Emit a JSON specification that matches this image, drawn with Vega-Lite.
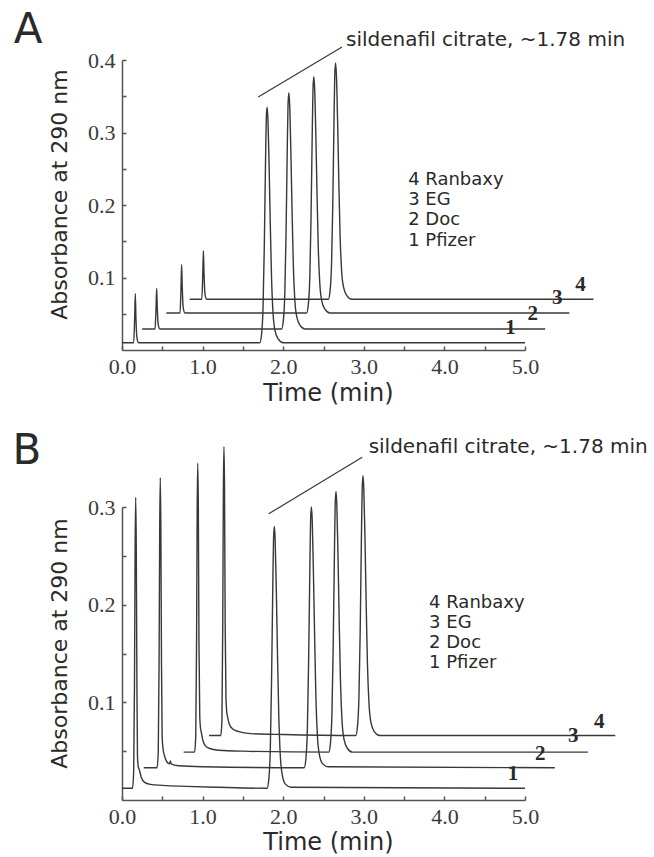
{
  "$schema": "https://vega.github.io/schema/vega-lite/v6.json",
  "background": "white",
  "padding": {"left": 12, "top": 9, "right": 5, "bottom": 5},
  "spacing": 157,
  "bounds": "flush",
  "config": {
    "view": {"stroke": null},
    "axis": {
      "grid": false,
      "domainColor": "#555555",
      "domainWidth": 1.5,
      "tickColor": "#555555",
      "tickWidth": 1.5,
      "tickSize": -4,
      "labelFont": "Liberation Serif",
      "labelFontSize": 22,
      "labelColor": "#3a3a3a",
      "titleFont": "DejaVu Sans",
      "titleFontWeight": "normal",
      "titleColor": "#2a2a2a"
    }
  },
  "datasets": {
    "traces": [
      {"p":"A","s":1,"t":0,"a":0.010},
      {"p":"A","s":1,"t":0.145,"a":0.010},
      {"p":"A","s":1,"t":0.157,"a":0.044},
      {"p":"A","s":1,"t":0.165,"a":0.078},
      {"p":"A","s":1,"t":0.173,"a":0.044},
      {"p":"A","s":1,"t":0.185,"a":0.017},
      {"p":"A","s":1,"t":0.205,"a":0.010},
      {"p":"A","s":1,"t":1.71,"a":0.010},
      {"p":"A","s":1,"t":1.73,"a":0.020},
      {"p":"A","s":1,"t":1.75,"a":0.059},
      {"p":"A","s":1,"t":1.765,"a":0.140},
      {"p":"A","s":1,"t":1.78,"a":0.254},
      {"p":"A","s":1,"t":1.79,"a":0.319},
      {"p":"A","s":1,"t":1.80,"a":0.335},
      {"p":"A","s":1,"t":1.81,"a":0.319},
      {"p":"A","s":1,"t":1.825,"a":0.254},
      {"p":"A","s":1,"t":1.84,"a":0.173},
      {"p":"A","s":1,"t":1.855,"a":0.101},
      {"p":"A","s":1,"t":1.875,"a":0.049},
      {"p":"A","s":1,"t":1.90,"a":0.026},
      {"p":"A","s":1,"t":1.94,"a":0.015},
      {"p":"A","s":1,"t":2.00,"a":0.010},
      {"p":"A","s":1,"t":5.0,"a":0.010},

      {"p":"A","s":2,"t":0.25,"a":0.029},
      {"p":"A","s":2,"t":0.41,"a":0.029},
      {"p":"A","s":2,"t":0.422,"a":0.057},
      {"p":"A","s":2,"t":0.43,"a":0.085},
      {"p":"A","s":2,"t":0.438,"a":0.057},
      {"p":"A","s":2,"t":0.45,"a":0.035},
      {"p":"A","s":2,"t":0.47,"a":0.029},
      {"p":"A","s":2,"t":1.98,"a":0.029},
      {"p":"A","s":2,"t":2.00,"a":0.039},
      {"p":"A","s":2,"t":2.02,"a":0.078},
      {"p":"A","s":2,"t":2.035,"a":0.159},
      {"p":"A","s":2,"t":2.05,"a":0.274},
      {"p":"A","s":2,"t":2.06,"a":0.339},
      {"p":"A","s":2,"t":2.07,"a":0.355},
      {"p":"A","s":2,"t":2.08,"a":0.339},
      {"p":"A","s":2,"t":2.095,"a":0.274},
      {"p":"A","s":2,"t":2.11,"a":0.192},
      {"p":"A","s":2,"t":2.125,"a":0.120},
      {"p":"A","s":2,"t":2.145,"a":0.068},
      {"p":"A","s":2,"t":2.17,"a":0.045},
      {"p":"A","s":2,"t":2.21,"a":0.034},
      {"p":"A","s":2,"t":2.27,"a":0.029},
      {"p":"A","s":2,"t":5.25,"a":0.029},

      {"p":"A","s":3,"t":0.55,"a":0.051},
      {"p":"A","s":3,"t":0.72,"a":0.051},
      {"p":"A","s":3,"t":0.732,"a":0.085},
      {"p":"A","s":3,"t":0.74,"a":0.118},
      {"p":"A","s":3,"t":0.748,"a":0.085},
      {"p":"A","s":3,"t":0.76,"a":0.058},
      {"p":"A","s":3,"t":0.78,"a":0.051},
      {"p":"A","s":3,"t":2.29,"a":0.051},
      {"p":"A","s":3,"t":2.31,"a":0.061},
      {"p":"A","s":3,"t":2.33,"a":0.100},
      {"p":"A","s":3,"t":2.345,"a":0.181},
      {"p":"A","s":3,"t":2.36,"a":0.296},
      {"p":"A","s":3,"t":2.37,"a":0.361},
      {"p":"A","s":3,"t":2.38,"a":0.377},
      {"p":"A","s":3,"t":2.39,"a":0.361},
      {"p":"A","s":3,"t":2.405,"a":0.296},
      {"p":"A","s":3,"t":2.42,"a":0.214},
      {"p":"A","s":3,"t":2.435,"a":0.142},
      {"p":"A","s":3,"t":2.455,"a":0.090},
      {"p":"A","s":3,"t":2.48,"a":0.067},
      {"p":"A","s":3,"t":2.52,"a":0.056},
      {"p":"A","s":3,"t":2.58,"a":0.051},
      {"p":"A","s":3,"t":5.55,"a":0.051},

      {"p":"A","s":4,"t":0.84,"a":0.070},
      {"p":"A","s":4,"t":0.99,"a":0.070},
      {"p":"A","s":4,"t":1.002,"a":0.104},
      {"p":"A","s":4,"t":1.01,"a":0.137},
      {"p":"A","s":4,"t":1.018,"a":0.104},
      {"p":"A","s":4,"t":1.03,"a":0.077},
      {"p":"A","s":4,"t":1.05,"a":0.070},
      {"p":"A","s":4,"t":2.56,"a":0.070},
      {"p":"A","s":4,"t":2.58,"a":0.080},
      {"p":"A","s":4,"t":2.60,"a":0.119},
      {"p":"A","s":4,"t":2.615,"a":0.200},
      {"p":"A","s":4,"t":2.63,"a":0.315},
      {"p":"A","s":4,"t":2.64,"a":0.380},
      {"p":"A","s":4,"t":2.65,"a":0.396},
      {"p":"A","s":4,"t":2.66,"a":0.380},
      {"p":"A","s":4,"t":2.675,"a":0.315},
      {"p":"A","s":4,"t":2.69,"a":0.233},
      {"p":"A","s":4,"t":2.705,"a":0.161},
      {"p":"A","s":4,"t":2.725,"a":0.109},
      {"p":"A","s":4,"t":2.75,"a":0.086},
      {"p":"A","s":4,"t":2.79,"a":0.075},
      {"p":"A","s":4,"t":2.85,"a":0.070},
      {"p":"A","s":4,"t":5.85,"a":0.070},

      {"p":"B","s":1,"t":0,"a":0.012},
      {"p":"B","s":1,"t":0.13,"a":0.012},
      {"p":"B","s":1,"t":0.145,"a":0.030},
      {"p":"B","s":1,"t":0.155,"a":0.120},
      {"p":"B","s":1,"t":0.163,"a":0.260},
      {"p":"B","s":1,"t":0.17,"a":0.310},
      {"p":"B","s":1,"t":0.177,"a":0.260},
      {"p":"B","s":1,"t":0.185,"a":0.120},
      {"p":"B","s":1,"t":0.192,"a":0.045},
      {"p":"B","s":1,"t":0.20,"a":0.035},
      {"p":"B","s":1,"t":0.215,"a":0.031},
      {"p":"B","s":1,"t":0.24,"a":0.023},
      {"p":"B","s":1,"t":0.28,"a":0.018},
      {"p":"B","s":1,"t":0.35,"a":0.016},
      {"p":"B","s":1,"t":0.5,"a":0.015},
      {"p":"B","s":1,"t":0.8,"a":0.014},
      {"p":"B","s":1,"t":1.2,"a":0.013},
      {"p":"B","s":1,"t":1.80,"a":0.012},
      {"p":"B","s":1,"t":1.82,"a":0.020},
      {"p":"B","s":1,"t":1.84,"a":0.052},
      {"p":"B","s":1,"t":1.855,"a":0.119},
      {"p":"B","s":1,"t":1.87,"a":0.213},
      {"p":"B","s":1,"t":1.88,"a":0.267},
      {"p":"B","s":1,"t":1.89,"a":0.280},
      {"p":"B","s":1,"t":1.90,"a":0.267},
      {"p":"B","s":1,"t":1.915,"a":0.213},
      {"p":"B","s":1,"t":1.93,"a":0.146},
      {"p":"B","s":1,"t":1.945,"a":0.087},
      {"p":"B","s":1,"t":1.965,"a":0.044},
      {"p":"B","s":1,"t":1.99,"a":0.025},
      {"p":"B","s":1,"t":2.03,"a":0.016},
      {"p":"B","s":1,"t":2.10,"a":0.013},
      {"p":"B","s":1,"t":5.0,"a":0.012},

      {"p":"B","s":2,"t":0.27,"a":0.033},
      {"p":"B","s":2,"t":0.435,"a":0.033},
      {"p":"B","s":2,"t":0.45,"a":0.050},
      {"p":"B","s":2,"t":0.46,"a":0.140},
      {"p":"B","s":2,"t":0.468,"a":0.280},
      {"p":"B","s":2,"t":0.475,"a":0.330},
      {"p":"B","s":2,"t":0.482,"a":0.280},
      {"p":"B","s":2,"t":0.49,"a":0.140},
      {"p":"B","s":2,"t":0.498,"a":0.065},
      {"p":"B","s":2,"t":0.51,"a":0.052},
      {"p":"B","s":2,"t":0.525,"a":0.046},
      {"p":"B","s":2,"t":0.55,"a":0.040},
      {"p":"B","s":2,"t":0.59,"a":0.037},
      {"p":"B","s":2,"t":0.60,"a":0.040},
      {"p":"B","s":2,"t":0.61,"a":0.037},
      {"p":"B","s":2,"t":0.70,"a":0.035},
      {"p":"B","s":2,"t":1.0,"a":0.034},
      {"p":"B","s":2,"t":2.26,"a":0.033},
      {"p":"B","s":2,"t":2.28,"a":0.041},
      {"p":"B","s":2,"t":2.30,"a":0.073},
      {"p":"B","s":2,"t":2.315,"a":0.140},
      {"p":"B","s":2,"t":2.33,"a":0.233},
      {"p":"B","s":2,"t":2.34,"a":0.287},
      {"p":"B","s":2,"t":2.35,"a":0.300},
      {"p":"B","s":2,"t":2.36,"a":0.287},
      {"p":"B","s":2,"t":2.375,"a":0.233},
      {"p":"B","s":2,"t":2.39,"a":0.167},
      {"p":"B","s":2,"t":2.405,"a":0.108},
      {"p":"B","s":2,"t":2.425,"a":0.065},
      {"p":"B","s":2,"t":2.45,"a":0.046},
      {"p":"B","s":2,"t":2.49,"a":0.037},
      {"p":"B","s":2,"t":2.56,"a":0.034},
      {"p":"B","s":2,"t":5.37,"a":0.033},

      {"p":"B","s":3,"t":0.765,"a":0.049},
      {"p":"B","s":3,"t":0.90,"a":0.049},
      {"p":"B","s":3,"t":0.915,"a":0.065},
      {"p":"B","s":3,"t":0.925,"a":0.160},
      {"p":"B","s":3,"t":0.933,"a":0.300},
      {"p":"B","s":3,"t":0.94,"a":0.345},
      {"p":"B","s":3,"t":0.947,"a":0.300},
      {"p":"B","s":3,"t":0.955,"a":0.160},
      {"p":"B","s":3,"t":0.965,"a":0.085},
      {"p":"B","s":3,"t":0.975,"a":0.073},
      {"p":"B","s":3,"t":0.985,"a":0.069},
      {"p":"B","s":3,"t":1.0,"a":0.062},
      {"p":"B","s":3,"t":1.03,"a":0.056},
      {"p":"B","s":3,"t":1.08,"a":0.053},
      {"p":"B","s":3,"t":1.2,"a":0.051},
      {"p":"B","s":3,"t":1.5,"a":0.050},
      {"p":"B","s":3,"t":2.565,"a":0.049},
      {"p":"B","s":3,"t":2.585,"a":0.057},
      {"p":"B","s":3,"t":2.605,"a":0.089},
      {"p":"B","s":3,"t":2.62,"a":0.156},
      {"p":"B","s":3,"t":2.635,"a":0.249},
      {"p":"B","s":3,"t":2.645,"a":0.303},
      {"p":"B","s":3,"t":2.655,"a":0.316},
      {"p":"B","s":3,"t":2.665,"a":0.303},
      {"p":"B","s":3,"t":2.68,"a":0.249},
      {"p":"B","s":3,"t":2.695,"a":0.183},
      {"p":"B","s":3,"t":2.71,"a":0.124},
      {"p":"B","s":3,"t":2.73,"a":0.081},
      {"p":"B","s":3,"t":2.755,"a":0.062},
      {"p":"B","s":3,"t":2.795,"a":0.053},
      {"p":"B","s":3,"t":2.86,"a":0.049},
      {"p":"B","s":3,"t":5.78,"a":0.049},

      {"p":"B","s":4,"t":1.08,"a":0.066},
      {"p":"B","s":4,"t":1.225,"a":0.066},
      {"p":"B","s":4,"t":1.24,"a":0.082},
      {"p":"B","s":4,"t":1.25,"a":0.180},
      {"p":"B","s":4,"t":1.258,"a":0.320},
      {"p":"B","s":4,"t":1.265,"a":0.362},
      {"p":"B","s":4,"t":1.272,"a":0.320},
      {"p":"B","s":4,"t":1.28,"a":0.180},
      {"p":"B","s":4,"t":1.29,"a":0.105},
      {"p":"B","s":4,"t":1.30,"a":0.090},
      {"p":"B","s":4,"t":1.31,"a":0.085},
      {"p":"B","s":4,"t":1.33,"a":0.078},
      {"p":"B","s":4,"t":1.37,"a":0.073},
      {"p":"B","s":4,"t":1.45,"a":0.070},
      {"p":"B","s":4,"t":1.6,"a":0.068},
      {"p":"B","s":4,"t":2.0,"a":0.067},
      {"p":"B","s":4,"t":2.90,"a":0.066},
      {"p":"B","s":4,"t":2.92,"a":0.074},
      {"p":"B","s":4,"t":2.94,"a":0.106},
      {"p":"B","s":4,"t":2.955,"a":0.172},
      {"p":"B","s":4,"t":2.97,"a":0.266},
      {"p":"B","s":4,"t":2.98,"a":0.319},
      {"p":"B","s":4,"t":2.99,"a":0.332},
      {"p":"B","s":4,"t":3.00,"a":0.319},
      {"p":"B","s":4,"t":3.015,"a":0.266},
      {"p":"B","s":4,"t":3.03,"a":0.199},
      {"p":"B","s":4,"t":3.045,"a":0.140},
      {"p":"B","s":4,"t":3.065,"a":0.098},
      {"p":"B","s":4,"t":3.09,"a":0.079},
      {"p":"B","s":4,"t":3.13,"a":0.070},
      {"p":"B","s":4,"t":3.20,"a":0.066},
      {"p":"B","s":4,"t":6.12,"a":0.066}
    ],
    "leaders": [
      {"p":"A","t":1.69,"a":0.349,"t2":2.73,"a2":0.418},
      {"p":"B","t":1.82,"a":0.293,"t2":2.98,"a2":0.351}
    ],
    "letters": [
      {"p":"A","t":-1.166,"a":0.441,"text":"A"},
      {"p":"B","t":-1.18,"a":0.357,"text":"B"}
    ],
    "notes": [
      {"p":"A","t":2.78,"a":0.428,"text":"sildenafil citrate, ~1.78 min"},
      {"p":"B","t":3.06,"a":0.361,"text":"sildenafil citrate, ~1.78 min"}
    ],
    "legend": [
      {"p":"A","t":3.55,"a":0.2345,"text":"4 Ranbaxy"},
      {"p":"A","t":3.55,"a":0.207,"text":"3 EG"},
      {"p":"A","t":3.55,"a":0.180,"text":"2 Doc"},
      {"p":"A","t":3.55,"a":0.151,"text":"1 Pfizer"},
      {"p":"B","t":3.81,"a":0.2015,"text":"4 Ranbaxy"},
      {"p":"B","t":3.81,"a":0.181,"text":"3 EG"},
      {"p":"B","t":3.81,"a":0.1605,"text":"2 Doc"},
      {"p":"B","t":3.81,"a":0.140,"text":"1 Pfizer"}
    ],
    "numbers": [
      {"p":"A","t":4.82,"a":0.030,"text":"1"},
      {"p":"A","t":5.095,"a":0.050,"text":"2"},
      {"p":"A","t":5.40,"a":0.072,"text":"3"},
      {"p":"A","t":5.69,"a":0.090,"text":"4"},
      {"p":"B","t":4.85,"a":0.027,"text":"1"},
      {"p":"B","t":5.19,"a":0.047,"text":"2"},
      {"p":"B","t":5.60,"a":0.066,"text":"3"},
      {"p":"B","t":5.92,"a":0.080,"text":"4"}
    ]
  },
  "vconcat": [
    {
      "width": 403,
      "height": 290,
      "encoding": {
        "x": {"field": "t", "type": "quantitative", "scale": {"domain": [0, 5], "nice": false, "zero": false},
          "axis": {"values": [0, 0.5, 1, 1.5, 2, 2.5, 3, 3.5, 4, 4.5, 5],
            "labelExpr": "abs(round(datum.value) - datum.value) < 0.01 ? format(datum.value, '.1f') : ''",
            "labelPadding": 10, "labelFlush": false,
            "title": "Time (min)", "titleFontSize": 24, "titleX": 206, "titleY": 43, "titleBaseline": "middle", "titleAlign": "center"}},
        "y": {"field": "a", "type": "quantitative", "scale": {"domain": [0, 0.4], "nice": false},
          "axis": {"values": [0.05, 0.1, 0.15, 0.2, 0.25, 0.3, 0.35, 0.4],
            "labelExpr": "abs(round(datum.value * 10) - datum.value * 10) < 0.01 ? format(datum.value, '.1f') : ''",
            "labelPadding": 11, "labelFlush": false,
            "title": "Absorbance at 290 nm", "titleFontSize": 22, "titleX": -63, "titleY": 134, "titleAngle": 270, "titleBaseline": "middle", "titleAlign": "center"}}
      },
      "layer": [
        {
          "data": {"name": "traces"},
          "transform": [{"filter": "datum.p == 'A'"}],
          "mark": {"type": "line", "color": "#383838", "strokeWidth": 1.4, "interpolate": "monotone"},
          "encoding": {"detail": {"field": "s"}}
        },
        {
          "data": {"name": "leaders"},
          "transform": [{"filter": "datum.p == 'A'"}],
          "mark": {"type": "rule", "color": "#383838", "strokeWidth": 1.2},
          "encoding": {"x2": {"field": "t2"}, "y2": {"field": "a2"}}
        },
        {
          "data": {"name": "letters"},
          "transform": [{"filter": "datum.p == 'A'"}],
          "mark": {"type": "text", "font": "DejaVu Sans", "fontSize": 42, "color": "#2a2a2a", "align": "center", "baseline": "middle"},
          "encoding": {"text": {"field": "text"}}
        },
        {
          "data": {"name": "notes"},
          "transform": [{"filter": "datum.p == 'A'"}],
          "mark": {"type": "text", "font": "DejaVu Sans", "fontSize": 20, "color": "#2a2a2a", "align": "left", "baseline": "middle"},
          "encoding": {"text": {"field": "text"}}
        },
        {
          "data": {"name": "legend"},
          "transform": [{"filter": "datum.p == 'A'"}],
          "mark": {"type": "text", "font": "DejaVu Sans", "fontSize": 18, "color": "#2a2a2a", "align": "left", "baseline": "middle"},
          "encoding": {"text": {"field": "text"}}
        },
        {
          "data": {"name": "numbers"},
          "transform": [{"filter": "datum.p == 'A'"}],
          "mark": {"type": "text", "font": "Liberation Serif", "fontSize": 21, "fontWeight": "bold", "color": "#2a2a2a", "align": "center", "baseline": "middle"},
          "encoding": {"text": {"field": "text"}}
        }
      ]
    },
    {
      "width": 403,
      "height": 293,
      "encoding": {
        "x": {"field": "t", "type": "quantitative", "scale": {"domain": [0, 5], "nice": false, "zero": false},
          "axis": {"values": [0, 0.5, 1, 1.5, 2, 2.5, 3, 3.5, 4, 4.5, 5],
            "labelExpr": "abs(round(datum.value) - datum.value) < 0.01 ? format(datum.value, '.1f') : ''",
            "labelPadding": 10, "labelFlush": false,
            "title": "Time (min)", "titleFontSize": 24, "titleX": 206, "titleY": 42, "titleBaseline": "middle", "titleAlign": "center"}},
        "y": {"field": "a", "type": "quantitative", "scale": {"domain": [0, 0.3], "nice": false},
          "axis": {"values": [0.05, 0.1, 0.15, 0.2, 0.25, 0.3],
            "labelExpr": "abs(round(datum.value * 10) - datum.value * 10) < 0.01 ? format(datum.value, '.1f') : ''",
            "labelPadding": 11, "labelFlush": false,
            "title": "Absorbance at 290 nm", "titleFontSize": 22, "titleX": -63, "titleY": 136, "titleAngle": 270, "titleBaseline": "middle", "titleAlign": "center"}}
      },
      "layer": [
        {
          "data": {"name": "traces"},
          "transform": [{"filter": "datum.p == 'B'"}],
          "mark": {"type": "line", "color": "#383838", "strokeWidth": 1.4, "interpolate": "monotone"},
          "encoding": {"detail": {"field": "s"}}
        },
        {
          "data": {"name": "leaders"},
          "transform": [{"filter": "datum.p == 'B'"}],
          "mark": {"type": "rule", "color": "#383838", "strokeWidth": 1.2},
          "encoding": {"x2": {"field": "t2"}, "y2": {"field": "a2"}}
        },
        {
          "data": {"name": "letters"},
          "transform": [{"filter": "datum.p == 'B'"}],
          "mark": {"type": "text", "font": "DejaVu Sans", "fontSize": 42, "color": "#2a2a2a", "align": "center", "baseline": "middle"},
          "encoding": {"text": {"field": "text"}}
        },
        {
          "data": {"name": "notes"},
          "transform": [{"filter": "datum.p == 'B'"}],
          "mark": {"type": "text", "font": "DejaVu Sans", "fontSize": 20, "color": "#2a2a2a", "align": "left", "baseline": "middle"},
          "encoding": {"text": {"field": "text"}}
        },
        {
          "data": {"name": "legend"},
          "transform": [{"filter": "datum.p == 'B'"}],
          "mark": {"type": "text", "font": "DejaVu Sans", "fontSize": 18, "color": "#2a2a2a", "align": "left", "baseline": "middle"},
          "encoding": {"text": {"field": "text"}}
        },
        {
          "data": {"name": "numbers"},
          "transform": [{"filter": "datum.p == 'B'"}],
          "mark": {"type": "text", "font": "Liberation Serif", "fontSize": 21, "fontWeight": "bold", "color": "#2a2a2a", "align": "center", "baseline": "middle"},
          "encoding": {"text": {"field": "text"}}
        }
      ]
    }
  ]
}
